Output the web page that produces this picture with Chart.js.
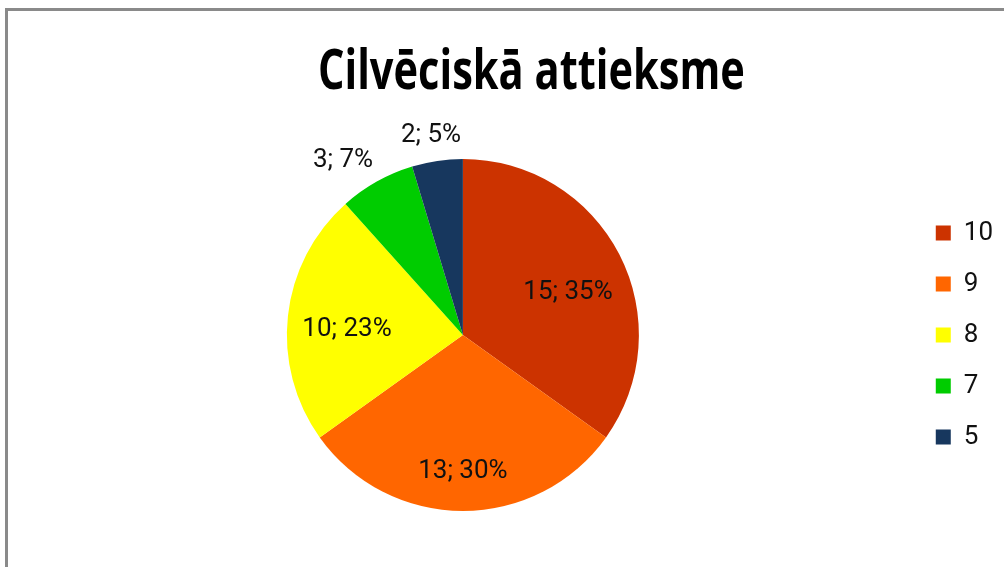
<!DOCTYPE html>
<html>
<head>
<meta charset="utf-8">
<script src="https://cdn.jsdelivr.net/npm/chart.js@4.4.1/dist/chart.umd.min.js"></script>
<style>
    html, body { margin: 0; padding: 0; background: #fff; }
    body { width: 1004px; height: 567px; position: relative; overflow: hidden; }
    #frame {
        position: absolute; left: 5px; top: 8px; width: 1100px; height: 700px;
        border-top: 3px solid #8a8a8a; border-left: 3px solid #8a8a8a;
    }
    #title {
        position: absolute; top: 39px; left: 0; width: 1063px; text-align: center;
        font-family: "Open Sans", "Noto Sans", sans-serif;
        font-weight: bold; font-size: 56px; line-height: 1; color: #000; white-space: nowrap;
    }
    #title-text { display: inline-block; transform-origin: 50% 50%; }
    #chart { position: absolute; left: 0; top: 0; }
</style>
</head>
<body>
<div id="frame"></div>
<div id="title"><span id="title-text">Cilvēciskā attieksme</span></div>
<canvas id="chart" width="1004" height="567"></canvas>
<script>
const categories = ["10", "9", "8", "7", "5"];
const counts = [15, 13, 10, 3, 2];
const sliceColors = ["#CC3300", "#FF6600", "#FFFF00", "#00CC00", "#17375E"];

// where each data label sits: fraction of the radius, and a small turn (degrees) off the slice middle
const labelRadius = [0.65, 0.76, 0.66, 1.215, 1.16];
const labelTurn = [4.0, 0, -2.4, -4.8, -0.6];

// the title in the picture is a narrow face, so squeeze it to its width
const titleText = document.getElementById("title-text");
titleText.style.transform = "scaleX(" + (427 / titleText.offsetWidth).toFixed(4) + ")";

const total = counts.reduce((a, b) => a + b, 0);

const pieLabels = {
    id: "pieLabels",
    afterDatasetsDraw(chart) {
        const ctx = chart.ctx;
        const arcs = chart.getDatasetMeta(0).data;
        ctx.save();
        ctx.font = "26px Roboto";
        ctx.fillStyle = "#111";
        ctx.textAlign = "center";
        ctx.textBaseline = "alphabetic";
        arcs.forEach((arc, i) => {
            const p = arc.getProps(["x", "y", "startAngle", "endAngle", "outerRadius"], true);
            const mid = (p.startAngle + p.endAngle) / 2 + labelTurn[i] * Math.PI / 180;
            const r = p.outerRadius * labelRadius[i];
            const pct = Math.round(counts[i] / total * 100);
            // baseline set so the digits are centred on the point
            ctx.fillText(counts[i] + "; " + pct + "%", p.x + Math.cos(mid) * r, p.y + Math.sin(mid) * r + 9);
        });
        ctx.restore();
    }
};

new Chart(document.getElementById("chart"), {
    type: "pie",
    data: {
        labels: categories,
        datasets: [{
            data: counts,
            backgroundColor: sliceColors,
            borderWidth: 0
        }]
    },
    options: {
        responsive: false,
        animation: false,
        layout: { padding: { left: 15, right: 1, top: 159, bottom: 56 } },
        plugins: {
            title: { display: false },
            tooltip: { enabled: false },
            legend: {
                position: "right",
                labels: {
                    boxWidth: 15,
                    boxHeight: 15,
                    padding: 25,
                    color: "#111",
                    font: { family: "Roboto", size: 26 }
                }
            }
        }
    },
    plugins: [pieLabels]
});
</script>
</body>
</html>
